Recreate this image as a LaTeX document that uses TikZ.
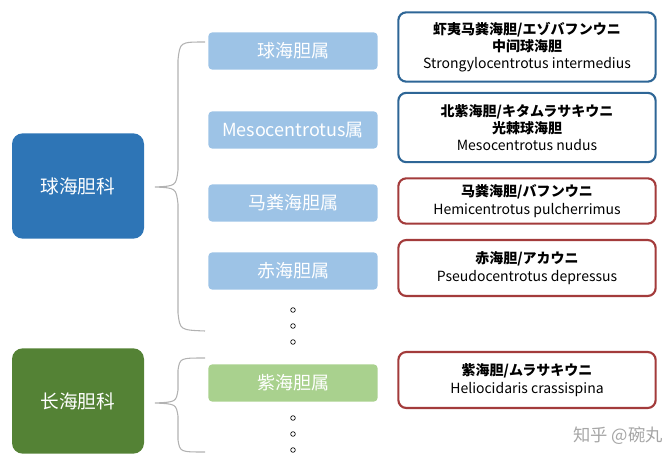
\documentclass[tikz,border=0pt]{standalone}
\usepackage{fontspec}
\setmainfont{Noto Sans CJK SC}
\usetikzlibrary{positioning}
\definecolor{famblue}{HTML}{2E75B6}
\definecolor{famgreen}{HTML}{548235}
\definecolor{genblue}{HTML}{9DC3E6}
\definecolor{gengreen}{HTML}{A9D18E}
\definecolor{spblue}{HTML}{2E6696}
\definecolor{spred}{HTML}{A33B3B}
\tikzset{
  family/.style={rounded corners=8pt, minimum width=99pt, minimum height=79pt, text=white, font=\fontsize{14}{16}\selectfont},
  genus/.style={rounded corners=3pt, minimum width=127pt, minimum height=28pt, text=white, font=\fontsize{13.5}{15}\selectfont},
  species/.style={draw, line width=1.6pt, rounded corners=6pt, minimum width=193pt, align=center, font=\fontsize{10.5}{13}\selectfont, inner sep=2pt},
  brace/.style={draw=black!30, line width=0.8pt},
  dot/.style={circle, draw, inner sep=0pt, minimum size=3.5pt, line width=0.5pt},
}
\begin{document}
\begin{tikzpicture}[x=0.75pt,y=-0.75pt]
\useasboundingbox (0,0) rectangle (671,464);
% families
\node [family, fill=famblue] (f1) at (78,186) {球海胆科};
\node [family, fill=famgreen] (f2) at (78,401) {长海胆科};
% genera
\node [genus, fill=genblue] (g1) at (293,51) {球海胆属};
\node [genus, fill=genblue] (g2) at (293,130) {Mesocentrotus属};
\node [genus, fill=genblue] (g3) at (293,203) {马粪海胆属};
\node [genus, fill=genblue] (g4) at (293,271) {赤海胆属};
\node [genus, fill=gengreen] (g5) at (293,383) {紫海胆属};
% dots
\foreach \y [count=\i] in {310,326,342} \node [dot] (da\i) at (293,\y) {};
\foreach \y [count=\i] in {418,434,450} \node [dot] (db\i) at (293,\y) {};
% species
\node [species, draw=spblue, minimum height=52pt] (s1) at (527,47)
  {\textbf{虾夷马粪海胆/エゾバフンウニ}\\\textbf{中间球海胆}\\Strongylocentrotus intermedius};
\node [species, draw=spblue, minimum height=52pt] (s2) at (527,127.5)
  {\textbf{北紫海胆/キタムラサキウニ}\\\textbf{光棘球海胆}\\Mesocentrotus nudus};
\node [species, draw=spred, minimum height=34pt] (s3) at (527,201)
  {\textbf{马粪海胆/バフンウニ}\\Hemicentrotus pulcherrimus};
\node [species, draw=spred, minimum height=42pt] (s4) at (527,268)
  {\textbf{赤海胆/アカウニ}\\Pseudocentrotus depressus};
\node [species, draw=spred, minimum height=42pt] (s5) at (527,380)
  {\textbf{紫海胆/ムラサキウニ}\\Heliocidaris crassispina};
% braces
\coordinate (b1) at (155,187);
\coordinate (b2) at (155,403);
\path [brace] (205,42) .. controls (180,42) .. (178,60) -- (178,170)
  .. controls (176,186) .. (b1) .. controls (176,188) .. (178,204) -- (178,313)
  .. controls (180,330) .. (205,331);
\path [brace] (205,358) .. controls (180,358) .. (178,370) -- (178,390)
  .. controls (176,402) .. (b2) .. controls (176,404) .. (178,416) -- (178,440)
  .. controls (180,452) .. (205,452);
% watermark
\node [text=black!35, font=\fontsize{13}{15}\selectfont] (wm) at (618,436) {知乎 @碗丸};
\end{tikzpicture}
\end{document}
